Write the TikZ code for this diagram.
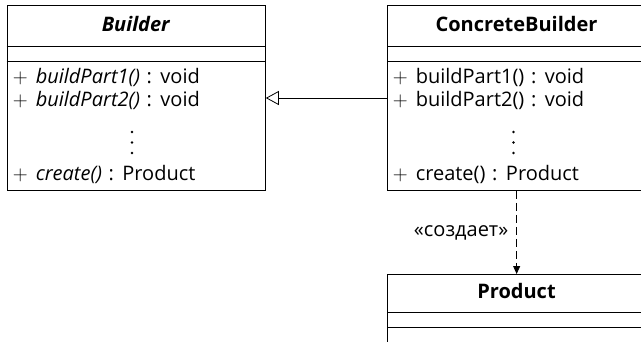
\documentclass[tikz,border=0pt]{standalone}
\usepackage{amsmath}
\usepackage{fontspec}
\setmainfont{Open Sans}
\usetikzlibrary{arrows.meta,positioning}

\newcommand{\umlfont}{\fontsize{20bp}{23bp}\selectfont}
\newcommand{\pub}{$+$\hspace{8bp}}
\newcommand{\typ}{\hspace{1.5bp} : \hspace{1.5bp}}

\tikzset{
  classbox/.style={draw, anchor=north west, minimum width=258.5bp, inner sep=0pt},
  classname/.style={anchor=base, inner sep=0pt, font=\umlfont\bfseries},
  member/.style={anchor=base west, inner sep=0pt},
  gen/.style={-{Triangle[open,length=13bp,width=14bp]}},
  dep/.style={dash pattern=on 8bp off 4bp, -{Triangle[length=8bp,width=7bp]}},
}

\begin{document}
\begin{tikzpicture}[x=1bp,y=-1bp,line width=0.8bp,font=\umlfont]
  \useasboundingbox (0,0) rectangle (641,341);
  \clip (0,0) rectangle (641,341);

  % class boxes
  \node[classbox, minimum height=185bp] (builder) at (6.5,5) {};
  \node[classbox, minimum height=185bp] (concrete) at (387,5) {};
  \node[classbox, minimum height=100bp] (product) at (387,274) {};
  \foreach \c in {builder,concrete}{
    \draw (\c.west |- 0,46.5) -- (\c.east |- 0,46.5);
    \draw (\c.west |- 0,61) -- (\c.east |- 0,61);
  }
  \draw (product.west |- 0,312.5) -- (product.east |- 0,312.5);
  \draw (product.west |- 0,327) -- (product.east |- 0,327);

  % names
  \node[classname] (builder-name) at (135.75,31) {\itshape Builder};
  \node[classname] (concrete-name) at (516.5,31) {ConcreteBuilder};
  \node[classname] (product-name) at (516.5,298.5) {Product};

  % Builder operations
  \node[member] (builder-op1) at (12.5,83) {\pub\textit{buildPart1()}\typ void};
  \node[member] (builder-op2) at (12.5,106) {\pub\textit{buildPart2()}\typ void};
  \node[member] (builder-op3) at (12.5,180) {\pub\textit{create()}\typ Product};

  % ConcreteBuilder operations
  \node[member] (concrete-op1) at (392.5,83) {\pub buildPart1()\typ void};
  \node[member] (concrete-op2) at (392.5,106) {\pub buildPart2()\typ void};
  \node[member] (concrete-op3) at (392.5,180) {\pub create()\typ Product};

  % vertical dots
  \foreach \x in {132,513.5}{
    \foreach \y in {132,142.5,153}{
      \fill (\x,\y) circle (1.4bp);
    }
  }

  % relations
  \coordinate (genline) at (0,98);
  \draw[gen] (concrete.west |- genline) -- (builder.east |- genline);
  \draw[dep] (concrete.south) -- (product.north)
    node[midway, left, inner sep=0pt, xshift=-8bp] (creates) {«создает»};
\end{tikzpicture}
\end{document}
